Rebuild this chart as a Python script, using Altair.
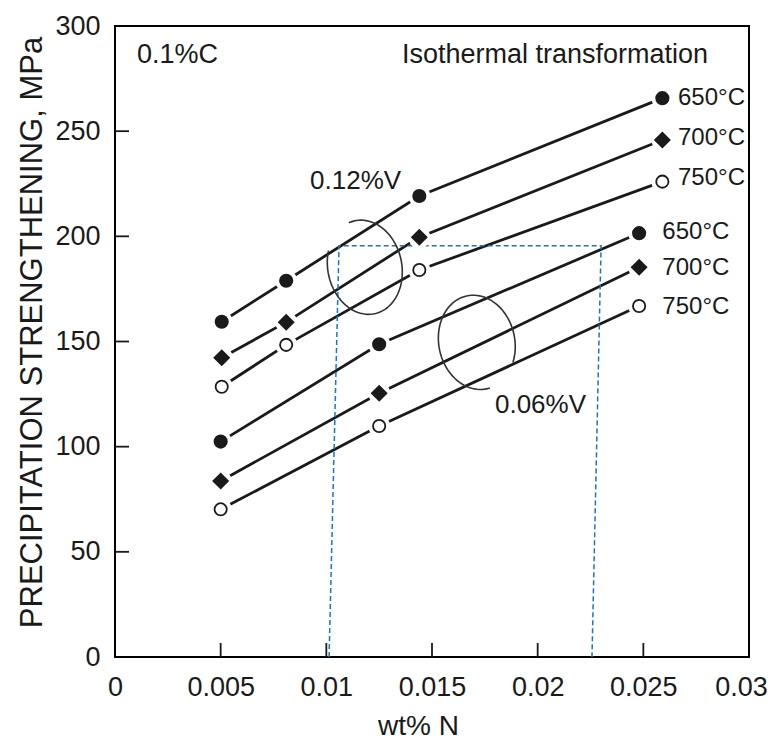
import altair as alt
import pandas as pd
import numpy as np

FONT = "Liberation Sans, Arial, sans-serif"
INK = "#1a1a1a"

# ---- data ----
upper_N = [0.00505, 0.0081, 0.0144, 0.0259]
upper_650 = [159.4, 178.9, 219.2, 265.7]
upper_700 = [142.3, 159.2, 199.6, 245.8]
upper_750 = [128.5, 148.4, 184.0, 226.0]

lower_N = [0.0050, 0.0125, 0.0248]
lower_650 = [102.4, 148.7, 201.5]
lower_700 = [83.7, 125.4, 185.3]
lower_750 = [70.2, 109.8, 166.9]

x_ticks = [0, 0.005, 0.01, 0.015, 0.02, 0.025, 0.03]
y_ticks = [0, 50, 100, 150, 200, 250, 300]
x_inner_ticks = [0.005, 0.01, 0.015, 0.02, 0.025]
y_inner_ticks = [50, 100, 150, 200, 250]

# dashed blue outline (N, MPa)
box_N = [0.01013, 0.0106, 0.0230, 0.02257]
box_S = [0, 195.5, 195.5, 0]

# grouping ellipses: centre N, centre MPa, half-width (px), half-height (px), tilt deg, arc start/end deg
ell_id = ["e12", "e06"]
ell_cx = [0.01182, 0.01712]
ell_cy = [185.3, 149.6]
ell_rx_px = [37, 38]
ell_ry_px = [47.5, 47.5]
ell_tilt = [12, 12]
ell_start = [150, -35]
ell_end = [460, 275]

# annotations
left_txt = ["0.1%C"]
left_N = [0.00104]
left_S = [286.3]

right_txt = ["Isothermal transformation"]
right_N = [0.02806]
right_S = [286.3]

temp_txt = ["650°C", "700°C", "750°C", "650°C", "700°C", "750°C"]
temp_N = [0.02664, 0.02664, 0.02664, 0.0259, 0.0259, 0.0259]
temp_S = [265.9, 246.7, 227.8, 202.2, 184.8, 166.6]

v_txt = ["0.12%V", "0.06%V"]
v_N = [0.00923, 0.01798]
v_S = [226.3, 119.8]

W, H = 634, 631

# ---- tables ----
rows = []
for grp, N, series in [("0.12%V", upper_N, [("650", upper_650), ("700", upper_700), ("750", upper_750)]),
                       ("0.06%V", lower_N, [("650", lower_650), ("700", lower_700), ("750", lower_750)])]:
    for temp, vals in series:
        for n, s in zip(N, vals):
            rows.append({"N": n, "S": s, "temp": temp, "series": grp + temp})
df = pd.DataFrame(rows)

box_df = pd.DataFrame({"N": box_N, "S": box_S, "o": list(range(len(box_N)))})

ell_rows = []
for i in range(len(ell_id)):
    t = np.radians(np.linspace(ell_start[i], ell_end[i], 80))
    th = np.radians(ell_tilt[i])
    dx = ell_rx_px[i] * np.cos(t)
    dy = ell_ry_px[i] * np.sin(t)
    rx = dx * np.cos(th) - dy * np.sin(th)
    ry = dx * np.sin(th) + dy * np.cos(th)
    for k in range(len(t)):
        ell_rows.append({"N": ell_cx[i] + rx[k] / W * 0.03,
                         "S": ell_cy[i] + ry[k] / H * 300,
                         "o": k, "id": ell_id[i]})
ell_df = pd.DataFrame(ell_rows)

left_df = pd.DataFrame({"N": left_N, "S": left_S, "t": left_txt})
right_df = pd.DataFrame({"N": right_N, "S": right_S, "t": right_txt})
temp_df = pd.DataFrame({"N": temp_N, "S": temp_S, "t": temp_txt})
v_df = pd.DataFrame({"N": v_N, "S": v_S, "t": v_txt})
xt_df = pd.DataFrame({"N": x_inner_ticks})
yt_df = pd.DataFrame({"S": y_inner_ticks})

xs = alt.Scale(domain=[0, 0.03], nice=False, zero=False)
ys = alt.Scale(domain=[0, 300], nice=False)

x_axis = alt.Axis(values=x_ticks, labelExpr="'' + datum.value", title="wt% N",
                  ticks=False, tickSize=0, labelPadding=17, grid=False, domain=False,
                  labelFont=FONT, labelFontSize=27, labelColor=INK, labelFlush=False,
                  labelOverlap=False, labelBound=False,
                  labelOffset={"condition": {"test": "datum.value >= 0.03", "value": -8}, "value": 0},
                  titleFont=FONT, titleFontSize=28, titleFontWeight="normal", titleColor=INK,
                  titleX=303, titleY=77, titleAlign="center", titleBaseline="alphabetic")
y_axis = alt.Axis(values=y_ticks, title="PRECIPITATION STRENGTHENING, MPa",
                  ticks=False, tickSize=0, labelPadding=15, grid=False, domain=False,
                  labelFont=FONT, labelFontSize=27, labelColor=INK, labelFlush=False,
                  labelOverlap=False, labelBound=False, labelBaseline="middle",
                  titleFont=FONT, titleFontSize=31, titleFontWeight="normal", titleColor=INK,
                  titleAngle=270, titleX=-74, titleY=306, titleAlign="center",
                  titleBaseline="alphabetic")

X = alt.X("N:Q", scale=xs, axis=x_axis)
Y = alt.Y("S:Q", scale=ys, axis=y_axis)

base = alt.Chart(df)

lines = base.mark_line(color=INK, strokeWidth=2.8).encode(x=X, y=Y, detail="series:N")
halo = base.mark_point(shape="circle", filled=True, fill="white", size=480, opacity=1,
                       strokeWidth=0).encode(x=X, y=Y)
m650 = base.transform_filter("datum.temp == '650'").mark_point(
    shape="circle", filled=True, color=INK, size=200, opacity=1).encode(x=X, y=Y)
m700 = base.transform_filter("datum.temp == '700'").mark_point(
    shape="diamond", filled=True, color=INK, size=290, opacity=1).encode(x=X, y=Y)
m750 = base.transform_filter("datum.temp == '750'").mark_point(
    shape="circle", filled=True, fill="white", stroke=INK, strokeWidth=1.8, size=150,
    opacity=1).encode(x=X, y=Y)

box = alt.Chart(box_df).mark_line(color="#1f74bd", strokeWidth=1.5, strokeDash=[5, 3]).encode(
    x=X, y=Y, order="o:Q")

ells = alt.Chart(ell_df).mark_line(color="#333333", strokeWidth=1.6).encode(
    x=X, y=Y, order="o:Q", detail="id:N")

xt = alt.Chart(xt_df).mark_rule(color=INK, strokeWidth=1.8).encode(
    x=X, y=alt.value(H), y2=alt.value(H - 14))
yt = alt.Chart(yt_df).mark_rule(color=INK, strokeWidth=1.8).encode(
    y=Y, x=alt.value(0), x2=alt.value(14))


def texts(d, size, align="left"):
    return alt.Chart(d).mark_text(align=align, baseline="middle", font=FONT,
                                  fontSize=size, color=INK).encode(x=X, y=Y, text="t:N")


chart = alt.layer(
    lines, box, ells, halo, m650, m700, m750, xt, yt,
    texts(left_df, 27), texts(right_df, 27, "right"), texts(temp_df, 24), texts(v_df, 26),
).properties(
    width=W, height=H,
    padding={"left": 115, "top": 26, "right": 23, "bottom": 92},
    autosize=alt.AutoSizeParams(type="none"),
    background="white",
).configure_view(stroke="black", strokeWidth=2)

chart.save("out.html", embed_options={"renderer": "svg", "actions": False})
